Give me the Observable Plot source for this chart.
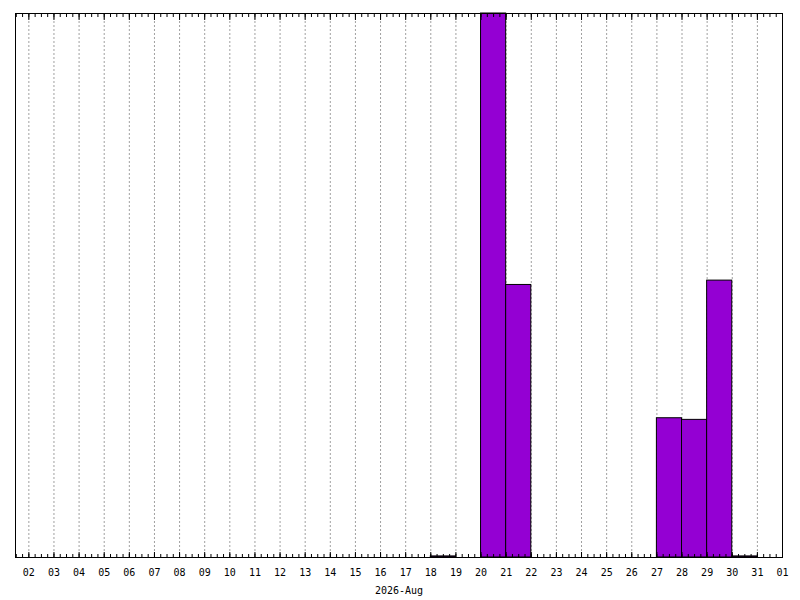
<!DOCTYPE html>
<html><head><meta charset="utf-8">
<script src="https://cdn.jsdelivr.net/npm/d3@7"></script>
<script src="https://cdn.jsdelivr.net/npm/@observablehq/plot@0.6"></script>
<style>body{margin:0;background:#fff}</style>
</head><body><div id="chart"></div>
<script>
const days = ["2026-08-18","2026-08-20","2026-08-21","2026-08-27","2026-08-28","2026-08-29","2026-08-30"];
const values = [0.2, 100, 50.1, 25.6, 25.3, 50.9, 0.2];
const domainStart = "2026-08-01T11:15:00Z";
const domainEnd = "2026-09-01T00:00:00Z";
const periodLabel = "2026-Aug";

const data = days.map((d, i) => {
  const s = new Date(d + "T00:00:00Z");
  return {start: s, end: d3.utcDay.offset(s, 1), value: values[i]};
});
const dayTicks = d3.utcDay.range(new Date("2026-08-02T00:00:00Z"), d3.utcDay.offset(new Date(domainEnd), 1));
const minorTicks = d3.utcHour.every(6).range(new Date(domainStart), new Date(domainEnd));
const fmt = d3.utcFormat("%d");

const plot = Plot.plot({
  width: 800, height: 600,
  marginLeft: 15, marginRight: 18, marginTop: 13, marginBottom: 43,
  style: {fontFamily: "'DejaVu Sans Mono', monospace", fontSize: "10px", color: "black", background: "white"},
  x: {type: "utc", domain: [new Date(domainStart), new Date(domainEnd)]},
  y: {domain: [0, 100], axis: null},
  marks: [
    Plot.gridX(dayTicks, {stroke: "#a0a0a0", strokeOpacity: 1, strokeDasharray: "2,2"}),
    Plot.rectY(data, {x1: "start", x2: "end", y: "value", fill: "#9400D3", stroke: "black", strokeWidth: 1}),
    Plot.axisX(minorTicks, {anchor: "bottom", tickSize: -3, text: null, stroke: "black"}),
    Plot.axisX(minorTicks, {anchor: "top", tickSize: -3, text: null, stroke: "black"}),
    Plot.axisX(dayTicks, {anchor: "bottom", tickSize: -5, text: null, stroke: "black"}),
    Plot.axisX(dayTicks, {anchor: "top", tickSize: -6, text: null, stroke: "black"}),
    Plot.axisX(dayTicks, {anchor: "bottom", tickSize: 0, tickPadding: 11, tickFormat: fmt, fill: "black", label: null}),
    Plot.text([periodLabel], {frameAnchor: "bottom", dy: 36, text: d => d, fill: "black"}),
    Plot.frame({stroke: "black"})
  ]
});
document.getElementById("chart").appendChild(plot);
</script>
</body></html>
